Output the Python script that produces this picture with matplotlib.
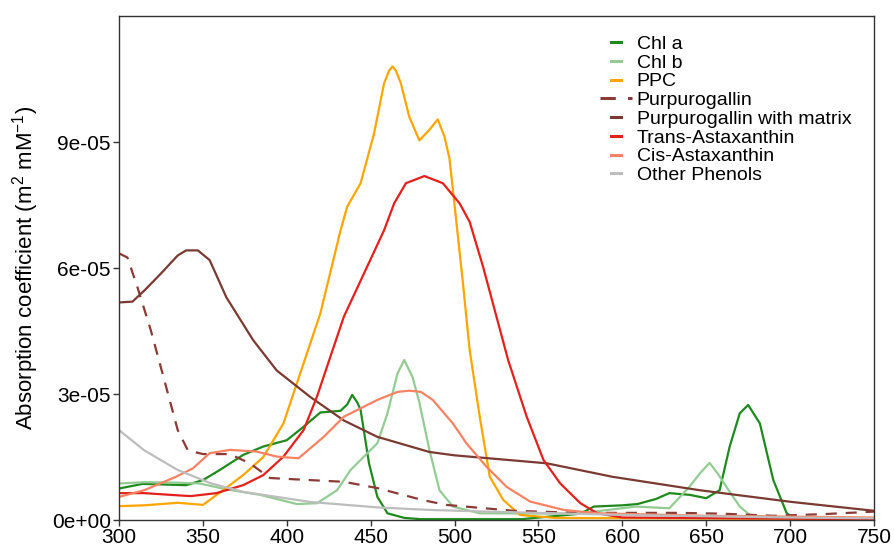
import matplotlib
matplotlib.use('Agg')
import matplotlib.pyplot as plt
from matplotlib.ticker import FuncFormatter, MultipleLocator, FixedLocator

plt.rcParams['font.family'] = ['Liberation Sans', 'DejaVu Sans']
plt.rcParams['mathtext.fontset'] = 'custom'
plt.rcParams['mathtext.rm'] = 'Liberation Sans'

# absorption values are in units of 1e-05 m2 mM-1
SCALE = 1e-5

chl_a_wl = [300, 314, 340, 350, 360, 374, 386, 400, 410, 420, 432, 436, 439,
            442, 444, 449, 454, 460, 470, 480, 540, 575, 583, 600, 609, 620,
            628, 640, 650, 658, 664, 670, 675, 682, 690, 698, 702, 750]
chl_a = [0.75, 0.86, 0.83, 0.95, 1.19, 1.55, 1.75, 1.9, 2.22, 2.56, 2.6, 2.75,
         2.98, 2.8, 2.62, 1.35, 0.55, 0.16, 0.05, 0.02, 0.02, 0.15, 0.32, 0.35,
         0.38, 0.5, 0.64, 0.6, 0.52, 0.71, 1.75, 2.54, 2.74, 2.3, 0.95, 0.16,
         0.05, 0.02]

chl_b_wl = [300, 315, 334, 348, 364, 384, 406, 418, 430, 438, 446, 454, 460,
            466, 470, 475, 479, 485, 491, 499, 515, 575, 583, 608, 628, 640,
            646, 652, 657, 662, 670, 676, 690, 750]
chl_b = [0.87, 0.9, 0.89, 0.87, 0.73, 0.6, 0.38, 0.4, 0.71, 1.19, 1.51, 1.83,
         2.54, 3.49, 3.81, 3.4, 2.8, 1.67, 0.71, 0.32, 0.16, 0.15, 0.2, 0.32,
         0.28, 0.79, 1.1, 1.36, 1.1, 0.79, 0.32, 0.12, 0.05, 0.03]

ppc_wl = [300, 315, 335, 350, 362, 374, 386, 398, 410, 420, 432, 436, 444,
          452, 458, 461, 463, 465, 468, 473, 479, 485, 490, 494, 497, 500,
          505, 509, 515, 521, 529, 539, 560, 750]
ppc = [0.33, 0.35, 0.41, 0.36, 0.71, 1.07, 1.5, 2.3, 3.73, 4.92, 6.89, 7.46,
       8.02, 9.2, 10.4, 10.7, 10.8, 10.7, 10.4, 9.6, 9.04, 9.29, 9.54, 9.13,
       8.6, 7.5, 5.64, 4.05, 2.46, 1.03, 0.48, 0.12, 0.05, 0.02]

purp_wl = [300, 305, 311, 319, 327, 335, 341, 350, 366, 378, 390, 414, 434,
           454, 481, 495, 535, 574, 634, 660, 690, 720, 750]
purp = [6.35, 6.25, 5.54, 4.51, 3.33, 2.14, 1.66, 1.57, 1.57, 1.35, 1.0, 0.95,
        0.91, 0.76, 0.475, 0.36, 0.22, 0.17, 0.17, 0.15, 0.1, 0.14, 0.2]

matrix_wl = [300, 308, 315, 325, 335, 340, 347, 354, 364, 380, 394, 414, 434,
             454, 485, 500, 555, 594, 646, 701, 750]
matrix = [5.18, 5.2, 5.46, 5.87, 6.3, 6.42, 6.42, 6.19, 5.3, 4.28, 3.56, 2.93,
          2.37, 1.98, 1.62, 1.54, 1.35, 1.03, 0.71, 0.43, 0.22]

trans_wl = [300, 315, 338, 343, 358, 374, 386, 398, 410, 418, 426, 434, 446,
            458, 464, 471, 482, 493, 503, 509, 517, 525, 532, 543, 553,
            563, 575, 585, 600, 750]
trans = [0.64, 0.64, 0.58, 0.57, 0.64, 0.83, 1.07, 1.51, 2.14, 2.94, 3.89,
         4.84, 5.87, 6.9, 7.54, 8.02, 8.19, 8.02, 7.54, 7.1, 6.03, 4.84, 3.8,
         2.46, 1.43, 0.87, 0.4, 0.16, 0.06, 0.02]

cis_wl = [300, 315, 334, 344, 354, 366, 382, 394, 407, 422, 434, 454, 466,
          473, 480, 487, 499, 507, 519, 531, 545, 565, 585, 650, 750]
cis = [0.55, 0.71, 1.03, 1.23, 1.59, 1.67, 1.63, 1.51, 1.47, 1.98, 2.46, 2.86,
       3.05, 3.08, 3.05, 2.86, 2.3, 1.83, 1.27, 0.79, 0.44, 0.24, 0.16, 0.1,
       0.06]

phenol_wl = [300, 315, 335, 355, 374, 394, 414, 454, 485, 520, 560, 600, 650,
             700, 750]
phenol = [2.14, 1.66, 1.19, 0.87, 0.67, 0.55, 0.43, 0.3, 0.24, 0.2, 0.16,
          0.12, 0.09, 0.06, 0.04]

y_ticks = [0, 3e-5, 6e-5, 9e-5]

series = [
    ('Chl a', chl_a_wl, chl_a, '#1e8a1e', '-'),
    ('Chl b', chl_b_wl, chl_b, '#93cc93', '-'),
    ('PPC', ppc_wl, ppc, '#ffa500', '-'),
    ('Purpurogallin', purp_wl, purp, '#8b3a35', '--'),
    ('Purpurogallin with matrix', matrix_wl, matrix, '#7a3a32', '-'),
    ('Trans-Astaxanthin', trans_wl, trans, '#e3201b', '-'),
    ('Cis-Astaxanthin', cis_wl, cis, '#fa8263', '-'),
    ('Other Phenols', phenol_wl, phenol, '#bdbdbd', '-'),
]

fig = plt.figure(figsize=(8.95, 5.46), dpi=100)
ax = fig.add_axes([0.133, 0.0476, 0.8435, 0.923])

for label, wl, vals, color, ls in series:
    line, = ax.plot(wl, [v * SCALE for v in vals], color=color, lw=1.6,
                    ls=ls, label=label)
    if ls == '--':
        line.set_dashes((5, 4))

ax.set_xlim(300, 750)
ax.set_ylim(0, 1.2e-4)
ax.xaxis.set_major_locator(MultipleLocator(50))
ax.yaxis.set_major_locator(FixedLocator(y_ticks))
ax.yaxis.set_major_formatter(FuncFormatter(lambda v, pos: '%.0e' % v))

for sp in ax.spines.values():
    sp.set_color('#333333')
    sp.set_linewidth(1.0)
ax.tick_params(direction='out', length=4, width=1, color='#333333',
               labelsize=15, pad=2)

ax.set_ylabel('Absorption coefficient (m$^\\mathregular{2}$ mM$^\\mathregular{-1}$)',
              fontsize=16)
ax.yaxis.set_label_coords(-0.104, 0.5)

leg = ax.legend(loc='upper left', bbox_to_anchor=(0.637, 0.962),
                frameon=False, fontsize=14, handlelength=1.65,
                handletextpad=0.25, labelspacing=0.06, borderpad=0,
                borderaxespad=0)
# solid keys are drawn short, the dashed key keeps its full length
for hl in leg.get_lines():
    if hl.get_linestyle() == '-':
        xd = hl.get_xdata()
        yd = hl.get_ydata()
        c = (xd[0] + xd[-1]) / 2.0
        half = (xd[-1] - xd[0]) * 0.17
        hl.set_data([c - half, c + half], [yd[0], yd[0]])
    hl.set_linewidth(2.2)

fig.savefig('out.png', dpi=100)
plt.close('all')
